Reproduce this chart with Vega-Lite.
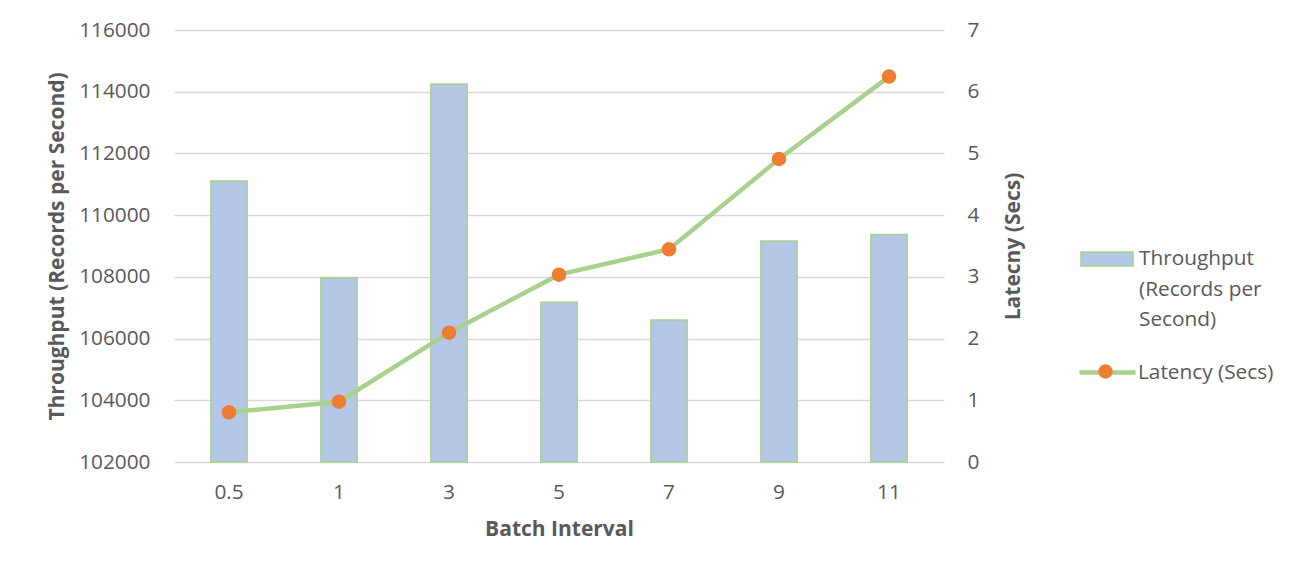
{
  "$schema": "https://vega.github.io/schema/vega-lite/v6.json",
  "width": 770,
  "height": 432,
  "autosize": {"type": "none"},
  "padding": {"left": 174, "top": 30, "right": 368, "bottom": 114},
  "background": "white",
  "config": {
    "font": "Open Sans",
    "view": {"stroke": null},
    "style": {"guide-label": {"lineHeight": 30.5}}
  },
  "data": {
    "values": [
      {"batch": "0.5", "throughput": 111110, "latency": 0.805},
      {"batch": "1", "throughput": 107975, "latency": 0.977},
      {"batch": "3", "throughput": 114250, "latency": 2.096},
      {"batch": "5", "throughput": 107180, "latency": 3.036},
      {"batch": "7", "throughput": 106600, "latency": 3.447},
      {"batch": "9", "throughput": 109160, "latency": 4.91},
      {"batch": "11", "throughput": 109375, "latency": 6.245}
    ]
  },
  "encoding": {
    "x": {
      "field": "batch",
      "type": "ordinal",
      "sort": ["0.5", "1", "3", "5", "7", "9", "11"],
      "scale": {"paddingInner": 0.67, "paddingOuter": 0.335},
      "axis": {
        "title": "Batch Interval",
        "labelAngle": 0,
        "labelFontSize": 20.8,
        "labelColor": "#595959",
        "labelPadding": 20,
        "ticks": false,
        "domain": false,
        "grid": false,
        "titleFontSize": 21,
        "titleFontWeight": "bold",
        "titleColor": "#595959",
        "titlePadding": 17
      }
    }
  },
  "layer": [
    {
      "mark": {"type": "bar", "stroke": "#a9d18e", "strokeWidth": 1.5},
      "encoding": {
        "y": {
          "field": "throughput",
          "type": "quantitative",
          "scale": {"domain": [102000, 116000], "zero": false, "clamp": true},
          "axis": {
            "title": "Throughput (Records per Second)",
            "values": [102000, 104000, 106000, 108000, 110000, 112000, 114000, 116000],
            "format": "d",
            "grid": true,
            "gridColor": "#d9d9d9",
            "gridWidth": 1.3,
            "domain": false,
            "ticks": false,
            "labelFontSize": 20.8,
            "labelColor": "#595959",
            "labelPadding": 24,
            "titleFontSize": 21,
            "titleFontWeight": "bold",
            "titleColor": "#595959",
            "titlePadding": 11
          }
        },
        "fill": {
          "datum": "Throughput (Records per Second)",
          "type": "nominal",
          "scale": {"range": ["#b4c7e7"]},
          "legend": {
            "title": null,
            "orient": "none",
            "legendX": 906,
            "legendY": 202,
            "padding": 0,
            "symbolType": "M-1,-0.27L1,-0.27L1,0.27L-1,0.27Z",
            "symbolSize": 2704,
            "symbolStrokeColor": "#a9d18e",
            "symbolStrokeWidth": 1.5,
            "labelFontSize": 20.8,
            "labelColor": "#595959",
            "labelOffset": 5,
            "labelLimit": 300,
            "labelExpr": "['Throughput', '(Records per', 'Second)']"
          }
        }
      }
    },
    {
      "encoding": {
        "y": {
          "field": "latency",
          "type": "quantitative",
          "scale": {"domain": [0, 7]},
          "axis": {
            "orient": "right",
            "title": "Latecny (Secs)",
            "values": [0, 1, 2, 3, 4, 5, 6, 7],
            "grid": false,
            "domain": false,
            "ticks": false,
            "labelFontSize": 20.8,
            "labelColor": "#595959",
            "labelPadding": 23,
            "titleAngle": 270,
            "titleFontSize": 21,
            "titleFontWeight": "bold",
            "titleColor": "#595959",
            "titlePadding": 45
          }
        }
      },
      "layer": [
        {
          "mark": {"type": "line", "strokeWidth": 4.5},
          "encoding": {
            "stroke": {
              "datum": "Latency (Secs)",
              "type": "nominal",
              "scale": {"range": ["#a9d18e"]},
              "legend": {
                "title": null,
                "orient": "none",
                "legendX": 903,
                "legendY": 312,
                "padding": 0,
                "symbolType": "stroke",
                "symbolSize": 3136,
                "symbolStrokeWidth": 4.5,
                "labelFontSize": 20.8,
                "labelColor": "#595959",
                "labelOffset": 0,
                "labelLimit": 300
              }
            }
          }
        },
        {
          "mark": {"type": "point", "filled": true, "color": "#ed7d31", "size": 210, "opacity": 1},
          "encoding": {
            "shape": {
              "datum": "Latency marker",
              "type": "nominal",
              "scale": {"range": ["circle"]},
              "legend": {
                "title": null,
                "orient": "none",
                "legendX": 924,
                "legendY": 334,
                "padding": 0,
                "symbolSize": 210,
                "symbolFillColor": "#ed7d31",
                "symbolStrokeWidth": 0,
                "symbolOpacity": 1,
                "labelExpr": "''"
              }
            }
          }
        }
      ]
    }
  ],
  "resolve": {"scale": {"y": "independent"}}
}
